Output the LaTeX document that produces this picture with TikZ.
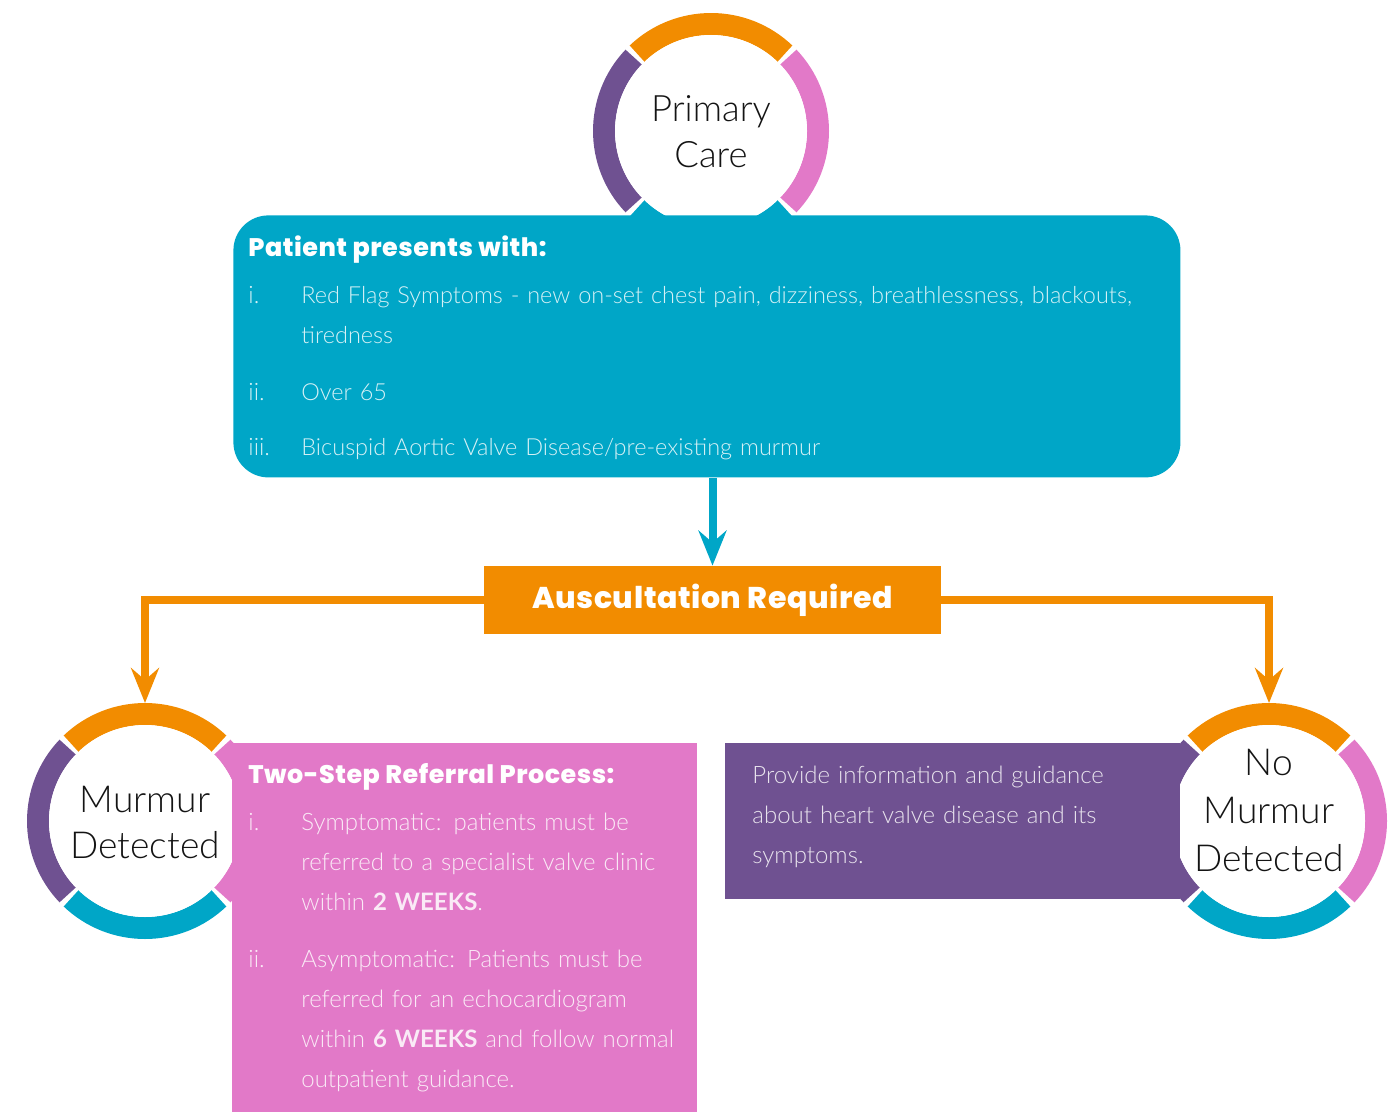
\documentclass[tikz,border=0pt]{standalone}
\usepackage{fontspec}
\setmainfont{Lato}
\newfontfamily\lightfont{Lato Light}
\newfontfamily\popfont{Poppins}[BoldFont={Poppins ExtraBold}, LetterSpace=2]
\newcommand\heavyfont{\popfont\bfseries}
\usetikzlibrary{arrows.meta}
\definecolor{cteal}{HTML}{00A6C7}
\definecolor{corange}{HTML}{F28C00}
\definecolor{cpink}{HTML}{E279C8}
\definecolor{cpurple}{HTML}{6F5191}
\newcommand\myring[5]{%
  \draw[seg,#2] (#1) ++(226.3:107) arc[start angle=226.3,end angle=313.7,radius=107];
  \draw[seg,#3] (#1) ++(-43.7:107) arc[start angle=-43.7,end angle=43.7,radius=107];
  \draw[seg,#4] (#1) ++(46.3:107) arc[start angle=46.3,end angle=133.7,radius=107];
  \draw[seg,#5] (#1) ++(136.3:107) arc[start angle=136.3,end angle=223.7,radius=107];
}
\begin{document}
\begin{tikzpicture}[x=0.5pt,y=-0.5pt,
  seg/.style={line width=11pt},
  disc/.style={circle, fill=white, minimum size=96pt, inner sep=0pt, outer sep=11pt},
  disctext/.style={anchor=base, inner sep=0pt, text width=110pt, align=center, text=black!92},
  boxbg/.style={anchor=north west, inner sep=0pt, draw=none},
  head/.style={anchor=base west, inner sep=0pt, text=white, font=\heavyfont\fontsize{12.7}{20}\selectfont},
  num/.style={anchor=base west, inner sep=0pt, font=\lightfont\fontsize{12}{20}\selectfont},
  body/.style={anchor=base west, inner sep=0pt, text width=460pt, align=left, font=\lightfont\fontsize{12}{20}\selectfont},
  tarrow/.style={cteal, line width=4pt, -{Stealth[length=17.5pt,width=14pt,inset=6pt]}},
  oarrow/.style={corange, line width=3.7pt, -{Stealth[length=17.5pt,width=14pt,inset=6pt]}},
]
\useasboundingbox (0,0) rectangle (1400,1112);

% Primary care circle
\coordinate (pcc) at (711,131);
\myring{pcc}{corange}{cpink}{cteal}{cpurple}
\node[disc] (pc) at (pcc) {};
\node[disctext, font=\lightfont\fontsize{18.2}{23}\selectfont] (pctxt) at (711,122) {Primary\\Care};

% Murmur detected circle
\coordinate (murc) at (145,821);
\myring{murc}{corange}{cpink}{cteal}{cpurple}
\node[disc] (mur) at (murc) {};
\node[disctext, font=\lightfont\fontsize{18.6}{23}\selectfont] (murtxt) at (145,812) {Murmur\\Detected};

% No murmur circle
\coordinate (nomc) at (1269,821);
\myring{nomc}{corange}{cpink}{cteal}{cpurple}
\node[disc] (nom) at (nomc) {};
\node[disctext, font=\lightfont\fontsize{18.6}{24}\selectfont] (nomtxt) at (1269,775) {No\\Murmur\\Detected};

% Teal box
\node[boxbg, fill=cteal, rounded corners=17.5pt, minimum width=473.5pt, minimum height=131pt] (pat) at (233,215) {};
\node[head] (pathead) at (248,257) {Patient presents with:};
\begin{scope}[every node/.append style={text=white!84!cteal}]
\node[num] (pn1) at (248,304) {i.};
\node[body, font=\lightfont\fontsize{11.75}{20}\selectfont] (pt1) at (301,304) {Red Flag Symptoms - new on-set chest pain, dizziness, breathlessness, blackouts,\\tiredness};
\node[num] (pn2) at (248,400) {ii.};
\node[body, font=\lightfont\fontsize{11.75}{20}\selectfont] (pt2) at (301,400) {Over 65};
\node[num] (pn3) at (248,455) {iii.};
\node[body, font=\lightfont\fontsize{11.75}{20}\selectfont] (pt3) at (301,455) {Bicuspid Aortic Valve Disease/pre-existing murmur};
\end{scope}

% Auscultation box
\node[fill=corange, minimum width=228.5pt, minimum height=34pt, inner sep=0pt, text=white, font=\heavyfont\fontsize{15}{18}\selectfont] (aus) at (712.5,600) {Auscultation Required};

% Pink box
\node[boxbg, fill=cpink, minimum width=232.5pt, minimum height=184.5pt] (ref) at (232,743) {};
\node[head] (refhead) at (248,783) {Two-Step Referral Process:};
\begin{scope}[every node/.append style={text=white!84!cpink}]
\node[num] (rn1) at (248,830) {i.};
\node[body] (rt1) at (301,830) {Symptomatic: patients must be\\referred to a specialist valve clinic\\within {\normalfont\bfseries 2 WEEKS}.};
\node[num] (rn2) at (248,967) {ii.};
\node[body] (rt2) at (301,967) {Asymptomatic: Patients must be\\referred for an echocardiogram\\within {\normalfont\bfseries 6 WEEKS} and follow normal\\outpatient guidance.};
\end{scope}

% Purple box
\node[boxbg, fill=cpurple, minimum width=227.5pt, minimum height=78pt] (inf) at (725,743) {};
\node[body, text=white!84!cpurple] (inftxt) at (752,783) {Provide information and guidance\\about heart valve disease and its\\symptoms.};

% Connectors
\draw[tarrow] (pat.south -| aus.north) -- (aus.north);
\draw[oarrow] (aus.west) -| (mur.north);
\draw[oarrow] (aus.east) -| (nom.north);
\end{tikzpicture}
\end{document}
